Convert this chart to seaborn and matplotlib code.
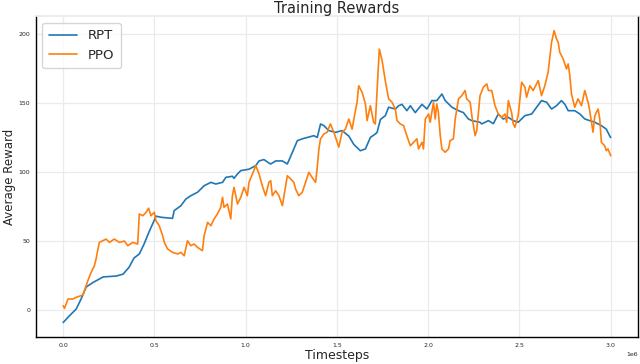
import seaborn as sns
import matplotlib.pyplot as plt
import pandas as pd
import numpy as np

# timesteps in millions
rpt_x = [0.0, 0.033, 0.071, 0.098, 0.126, 0.164, 0.219, 0.290, 0.328, 0.361, 0.388, 0.417, 0.443, 0.470, 0.497, 0.508,
         0.536, 0.599, 0.608, 0.645, 0.672, 0.699, 0.736, 0.772, 0.809, 0.836, 0.873, 0.891, 0.927, 0.936, 0.955, 0.973,
         1.018, 1.055, 1.073, 1.100, 1.127, 1.137, 1.164, 1.201, 1.228, 1.255, 1.283, 1.310, 1.337, 1.373, 1.392, 1.410,
         1.428, 1.455, 1.492, 1.528, 1.565, 1.592, 1.628, 1.656, 1.683, 1.710, 1.720, 1.738, 1.765, 1.783, 1.820, 1.838,
         1.856, 1.883, 1.902, 1.929, 1.966, 1.993, 2.020, 2.047, 2.075, 2.093, 2.130, 2.166, 2.193, 2.220, 2.239, 2.284,
         2.293, 2.330, 2.357, 2.384, 2.411, 2.439, 2.466, 2.493, 2.530, 2.567, 2.594, 2.621, 2.649, 2.676, 2.703, 2.730,
         2.749, 2.767, 2.803, 2.831, 2.858, 2.885, 2.913, 2.949, 2.976, 2.995, 3.0]
rpt_y = [-9, -4.3, 0.7, 8, 16.7, 20, 24, 24.6, 26, 31, 37.7, 40.6, 47.8, 56.5, 64.5, 68,
         67.2, 66.4, 72, 75.6, 80.4, 82.8, 85.3, 90, 92.5, 91.3, 92.5, 96.1, 96.9, 95.4, 98.6, 101,
         102, 104.6, 108, 109, 106.5, 105.8, 108, 108, 105.8, 114, 122.7, 124, 125, 126.3, 125, 134.8,
         133.6, 130, 128.7, 130, 126, 120, 115.4, 116.7, 125, 127.5, 128.7, 138, 140.8, 146.9, 145.6, 148,
         149, 144.4, 148, 143, 149, 145.6, 151.7, 151.7, 156.5, 151.7, 146.9, 144.4, 143, 138.4, 137.2, 136,
         134.8, 137.2, 135, 142, 138.4, 139.6, 137.2, 136, 140.8, 142, 146.9, 151.7, 150.5, 145.6, 148, 151.7,
         149, 144.4, 144.4, 142, 138.4, 137.2, 136, 133.6, 131, 126, 125]

ppo_x = [0.0, 0.007, 0.026, 0.053, 0.071, 0.108, 0.116, 0.135, 0.153, 0.171, 0.180, 0.190, 0.198, 0.217, 0.235, 0.253,
         0.280, 0.308, 0.335, 0.354, 0.381, 0.408, 0.417, 0.436, 0.454, 0.468, 0.481, 0.499, 0.508, 0.526, 0.545,
         0.554, 0.572, 0.599, 0.627, 0.645, 0.663, 0.681, 0.699, 0.717, 0.736, 0.763, 0.772, 0.791, 0.809, 0.827, 0.845,
         0.863, 0.873, 0.881, 0.900, 0.918, 0.927, 0.936, 0.955, 0.973, 0.991, 1.009, 1.018, 1.037, 1.055, 1.073, 1.091,
         1.109, 1.127, 1.137, 1.146, 1.164, 1.182, 1.201, 1.219, 1.228, 1.246, 1.264, 1.273, 1.291, 1.310, 1.328, 1.346,
         1.364, 1.383, 1.392, 1.401, 1.410, 1.428, 1.446, 1.464, 1.483, 1.501, 1.510, 1.528, 1.546, 1.565, 1.583, 1.601,
         1.610, 1.619, 1.638, 1.656, 1.665, 1.683, 1.701, 1.710, 1.732, 1.747, 1.765, 1.783, 1.802, 1.820, 1.829, 1.847,
         1.865, 1.883, 1.902, 1.920, 1.938, 1.947, 1.966, 1.974, 1.984, 2.002, 2.011, 2.029, 2.038, 2.047, 2.056, 2.066,
         2.075, 2.093, 2.111, 2.120, 2.138, 2.148, 2.166, 2.184, 2.202, 2.211, 2.230, 2.239, 2.248, 2.257, 2.266, 2.284,
         2.302, 2.321, 2.330, 2.348, 2.366, 2.384, 2.403, 2.421, 2.430, 2.439, 2.457, 2.466, 2.475, 2.493, 2.512, 2.530,
         2.539, 2.557, 2.575, 2.594, 2.603, 2.621, 2.639, 2.657, 2.676, 2.690, 2.703, 2.712, 2.721, 2.739, 2.758, 2.767,
         2.776, 2.785, 2.803, 2.821, 2.840, 2.858, 2.876, 2.885, 2.903, 2.913, 2.931, 2.940, 2.949, 2.967, 2.976, 2.985,
         3.0]
ppo_y = [3.1, 1.2, 8, 8, 9.2, 10.9, 14, 21.3, 27.3, 32.1, 37, 44, 49, 50.2, 51.4, 49,
         51.4, 49, 50, 46.6, 49, 47.8, 69.6, 68.3, 70.8, 73.7, 68.3, 70.8, 64.7, 61.1, 53.8,
         49, 44.2, 41.8, 40.6, 41.8, 39.3, 50.2, 46.6, 47.8, 45.4, 43, 53.8, 63.5, 61.1, 66, 69.6,
         74.4, 81.7, 74.4, 76.8, 66, 82.8, 88.9, 76.8, 81.7, 88.9, 82.8, 92.5, 98.6, 104.6, 98.6, 90,
         82.8, 92.5, 93.7, 82.8, 86.4, 82.8, 75.6, 90, 97.3, 95, 92.5, 87.7, 82.8, 85.3, 92.5, 99.8,
         96, 92.5, 103.4, 116.7, 124, 127.5, 128.8, 134.8, 128.8, 121.5, 118, 128.8, 131, 138.4, 131, 144.4,
         150.5, 162.5, 157.7, 149.3, 137.2, 148, 136, 134.8, 189, 181, 166, 153, 150.5, 145.6, 137.2, 134.8,
         133.6, 126.3, 119, 121.5, 124, 116.7, 121.5, 116.7, 138.4, 142, 136, 150.5, 138.4, 149.3, 143, 126.3,
         116.7, 114.3, 116.7, 122.7, 124, 138.4, 153, 155.3, 159, 153, 150.5, 140.8, 133.6, 126.3, 130, 155.3,
         161.4, 163.8, 159, 159, 148, 142, 139.6, 142, 136, 151.7, 143, 134.8, 132.4, 140.8, 165, 161.4,
         154.1, 162.5, 159, 163.8, 166.2, 155.3, 162.5, 172.2, 194, 202.4, 196.4, 194, 186.7, 182, 174.6, 178.3,
         169.8, 156.5, 146.9, 153, 148, 159, 150.5, 144.4, 128.8, 140.8, 145.6, 138.4, 121.5, 119, 115.4, 116.7,
         111.8]

rpt = pd.DataFrame({"Timesteps": np.array(rpt_x) * 1e6, "reward": rpt_y})
ppo = pd.DataFrame({"Timesteps": np.array(ppo_x) * 1e6, "reward": ppo_y})

sns.set_theme(style="whitegrid")
plt.rcParams['font.family'] = ['DejaVu Sans']

fig = plt.figure(figsize=(6.4, 3.64), dpi=100)
ax = fig.add_axes([0.056, 0.074, 0.941, 0.882])
sns.lineplot(data=rpt, x="Timesteps", y="reward", ax=ax, color="#1f77b4", lw=1.2, label="RPT")
sns.lineplot(data=ppo, x="Timesteps", y="reward", ax=ax, color="#ff7f0e", lw=1.2, label="PPO")

ax.set_xticks([0, 0.5e6, 1e6, 1.5e6, 2e6, 2.5e6, 3e6])
ax.set_yticks([0, 50, 100, 150, 200])
ax.tick_params(labelsize=4.5, pad=4, length=0)
ax.xaxis.get_offset_text().set_fontsize(4.5)
ax.grid(color="#ebebeb", lw=0.9)
for s in ["left", "bottom", "right"]:
    ax.spines[s].set_color("black")
    ax.spines[s].set_linewidth(1.0)
ax.spines["top"].set_color("#ebebeb")

ax.set_title("Training Rewards", fontsize=10.5, pad=2)
ax.set_xlabel("Timesteps", fontsize=9, labelpad=1)
ax.set_ylabel("Average Reward", fontsize=8.5, labelpad=2)
ax.legend(loc="upper left", fontsize=9.5, handlelength=2.1, borderpad=0.5, labelspacing=0.5, handletextpad=0.85)

plt.savefig("out.png", dpi=100)
